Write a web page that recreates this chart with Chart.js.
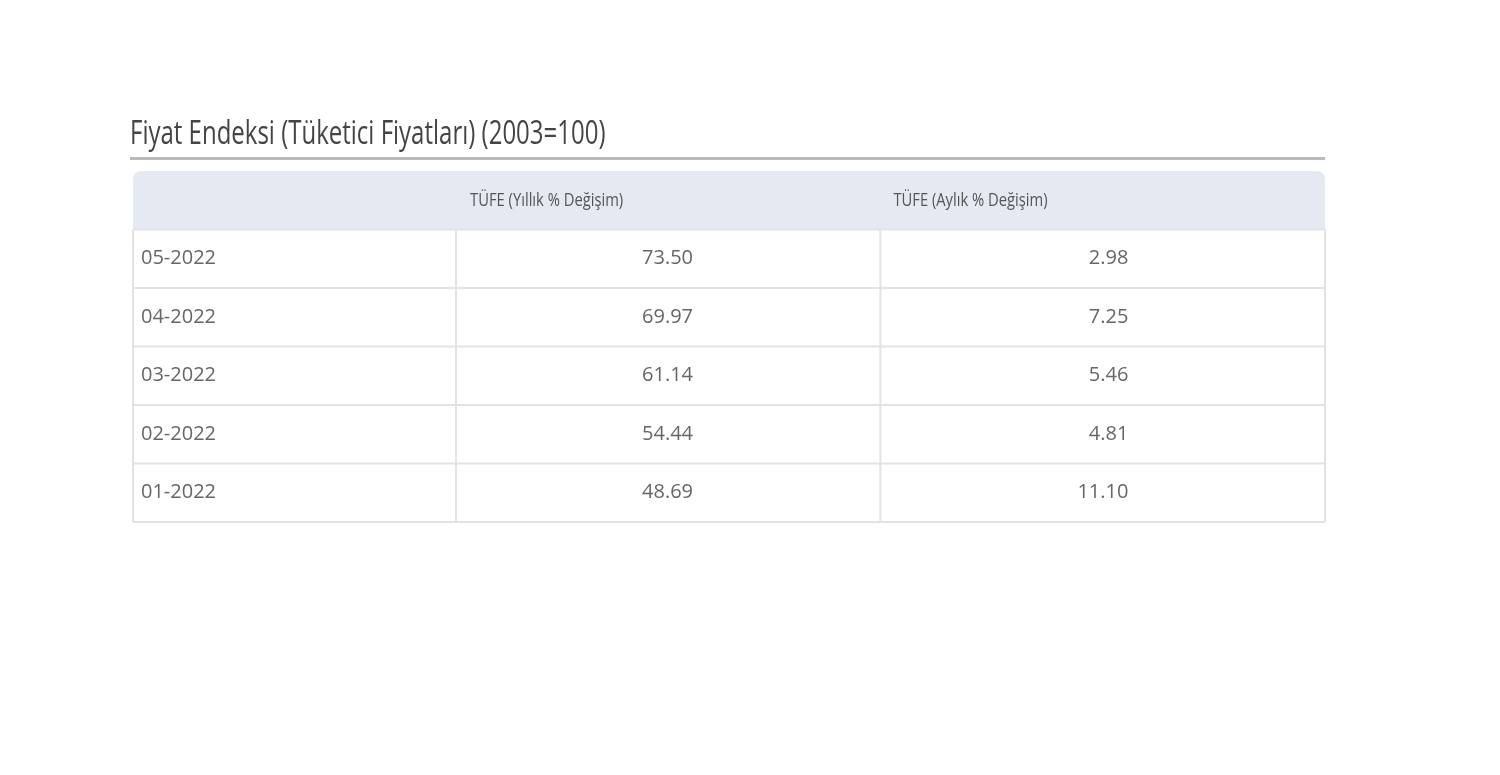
<!DOCTYPE html>
<html><head><meta charset="utf-8">
<script src="https://cdn.jsdelivr.net/npm/chart.js@4"></script>
<style>html,body{margin:0;background:#fff}#w{width:1500px;height:775px}</style>
</head><body><div id="w"><canvas id="c"></canvas></div>
<script>
const title = 'Fiyat Endeksi (Tüketici Fiyatları) (2003=100)';
const headers = ['', 'TÜFE (Yıllık % Değişim)', 'TÜFE (Aylık % Değişim)'];
const dates = ['05-2022','04-2022','03-2022','02-2022','01-2022'];
const yillik = ['73.50','69.97','61.14','54.44','48.69'];
const aylik = ['2.98','7.25','5.46','4.81','11.10'];
const rows = ['header', ...dates];

const tablePlugin = {
  id: 'table',
  afterDraw(chart) {
    const ctx = chart.ctx, a = chart.chartArea, ys = chart.scales.y;
    const L = a.left, R = a.right, W = R - L;
    const c1 = L + W * 0.271, c2 = L + W * 0.627;
    const rowH = (a.bottom - a.top) / rows.length;
    ctx.save();
    // title (condensed)
    ctx.save();
    ctx.translate(L - 3, a.top - 27);
    ctx.scale(0.8, 1.1);
    ctx.fillStyle = '#444';
    ctx.font = '30px "Open Sans", sans-serif';
    ctx.textBaseline = 'alphabetic';
    ctx.fillText(title, 0, 0);
    ctx.restore();
    ctx.fillStyle = '#bbb';
    ctx.fillRect(L - 3, a.top - 14, W + 3, 3);
    // header bg
    const hTop = ys.getPixelForValue(0) - rowH / 2;
    ctx.fillStyle = '#e5e9f1';
    ctx.beginPath();
    ctx.roundRect(L, hTop, W, rowH, [8, 8, 0, 0]);
    ctx.fill();
    // grid
    ctx.strokeStyle = '#e3e3e3'; ctx.lineWidth = 2;
    for (let i = 1; i <= rows.length; i++) {
      const y = ys.getPixelForValue(i - 1) + rowH / 2;
      ctx.beginPath(); ctx.moveTo(L, y); ctx.lineTo(R, y); ctx.stroke();
    }
    ctx.beginPath();
    [L, c1, c2, R].forEach(x => { ctx.moveTo(x, hTop + rowH); ctx.lineTo(x, a.bottom); });
    ctx.stroke();
    // header text (condensed)
    ctx.textBaseline = 'middle';
    ctx.fillStyle = '#555';
    ctx.font = '18px "Open Sans", sans-serif';
    const hy = ys.getPixelForValue(0);
    [[headers[1], c1 + 14], [headers[2], c2 + 13]].forEach(([t, x]) => {
      ctx.save(); ctx.translate(x, hy); ctx.scale(0.82, 1.05); ctx.fillText(t, 0, 0); ctx.restore();
    });
    // body
    ctx.font = '20px "Open Sans", sans-serif';
    ctx.fillStyle = '#666';
    dates.forEach((d, i) => {
      const y = ys.getPixelForValue(i + 1);
      ctx.textAlign = 'left'; ctx.fillText(d, L + 8, y);
      ctx.textAlign = 'right';
      ctx.fillText(yillik[i], c1 + 237, y);
      ctx.fillText(aylik[i], c2 + 248, y);
    });
    ctx.restore();
  }
};

new Chart(document.getElementById('c'), {
  type: 'line',
  data: { labels: rows, datasets: [{ data: rows.map(() => 0), pointRadius: 0, borderWidth: 0, showLine: false }] },
  options: {
    responsive: true, maintainAspectRatio: false, animation: false,
    layout: { padding: { left: 133, right: 175, top: 171, bottom: 253 } },
    plugins: { legend: { display: false }, tooltip: { enabled: false } },
    indexAxis: 'y',
    scales: {
      y: { type: 'category', labels: rows, offset: true, display: false },
      x: { type: 'linear', display: false, min: -1, max: 1 }
    }
  },
  plugins: [tablePlugin]
});
</script></body></html>
